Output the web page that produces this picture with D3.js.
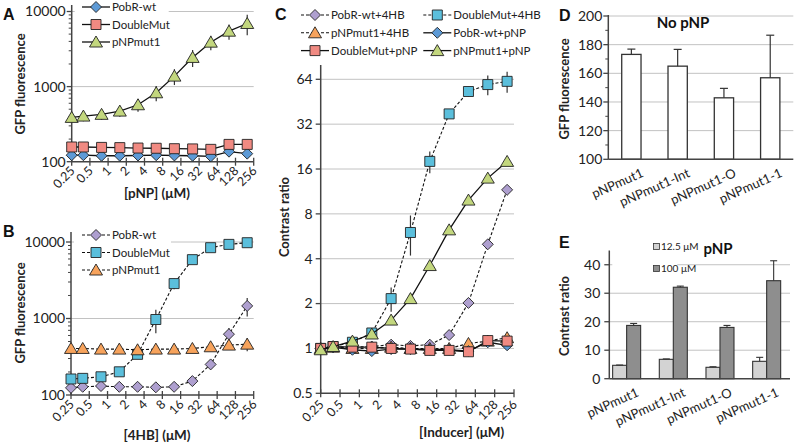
<!DOCTYPE html>
<html><head><meta charset="utf-8">
<script src="https://cdn.jsdelivr.net/npm/d3@7"></script>
<style>body{margin:0;background:#fff}svg{font-family:Lato,'Open Sans',sans-serif}</style>
</head><body><svg id="c" width="796" height="444"></svg>
<script>
// ---------- DATA ----------
const conc = [0.25, 0.39, 0.78, 1.5625, 3.125, 6.25, 12.5, 25, 50, 100, 200];
const concTicks = [0.25, 0.5, 1, 2, 4, 8, 16, 32, 64, 128, 256];
const concTickLabels = ["0.25","0.5","1","2","4","8","16","32","64","128","256"];

// Panel A: GFP fluorescence vs [pNP]
const aPobRwt    = [122, 122, 120, 120, 121, 122, 121, 120, 118, 136, 128];
const aPobRwtErr = [4, 4, 4, 4, 4, 4, 4, 4, 4, 8, 6];
const aDoubleMut    = [157, 157, 155, 154, 152, 151, 149, 148, 146, 170, 170];
const aDoubleMutErr = [5, 5, 5, 5, 5, 5, 5, 5, 5, 8, 8];
const aPNPmut1    = [389, 405, 427, 472, 573, 827, 1379, 2446, 3905, 5470, 6925];
const aPNPmut1Err = [55, 60, 65, 75, 110, 190, 330, 620, 850, 1250, 2100];

// Panel B: GFP fluorescence vs [4HB]
const bPobRwt    = [124, 128, 131, 128, 128, 126, 128, 152, 251, 624, 1460];
const bPobRwtErr = [4, 4, 4, 4, 4, 4, 4, 8, 30, 130, 400];
const bDoubleMut    = [162, 165, 173, 201, 340, 970, 2860, 5880, 8430, 9310, 9790];
const bDoubleMutErr = [8, 8, 8, 10, 25, 330, 450, 350, 400, 500, 500];
const bPNPmut1    = [406, 406, 398, 398, 390, 398, 398, 406, 427, 449, 462];
const bPNPmut1Err = [20, 20, 20, 20, 20, 20, 20, 25, 50, 60, 90];

// Panel C: contrast ratio vs [Inducer]
const cPobR4HB       = [1.0, 1.02, 1.02, 1.03, 1.06, 1.04, 1.06, 1.23, 2.02, 5.0, 11.6];
const cPobR4HBErr    = [0.02, 0.02, 0.02, 0.02, 0.03, 0.03, 0.03, 0.05, 0.1, 0.3, 0.5];
const cDoubleMut4HB    = [1.0, 1.03, 1.1, 1.27, 2.16, 6.0, 18, 37.5, 53, 59, 62];
const cDoubleMut4HBErr = [0.02, 0.02, 0.03, 0.05, 0.4, 1.8, 3, 2, 4, 9, 10];
const cPNPmut14HB    = [1.0, 1.02, 1.0, 1.0, 1.02, 1.0, 1.0, 1.0, 1.08, 1.12, 1.18];
const cPNPmut14HBErr = [0.02, 0.02, 0.02, 0.02, 0.02, 0.02, 0.02, 0.02, 0.04, 0.05, 0.06];
const cPobRpNP    = [1.0, 1.02, 0.98, 0.96, 0.99, 0.99, 0.98, 0.98, 0.96, 1.1, 1.05];
const cPobRpNPErr = [0.02, 0.02, 0.02, 0.02, 0.02, 0.02, 0.02, 0.02, 0.02, 0.05, 0.04];
const cDoubleMutpNP    = [1.0, 1.03, 1.02, 1.02, 1.0, 0.99, 0.97, 0.97, 0.95, 1.13, 1.12];
const cDoubleMutpNPErr = [0.02, 0.02, 0.02, 0.02, 0.02, 0.02, 0.02, 0.02, 0.02, 0.05, 0.05];
const cPNPmut1pNP    = [0.98, 1.03, 1.12, 1.25, 1.55, 2.16, 3.6, 6.25, 9.9, 13.9, 18];
const cPNPmut1pNPErr = [0.02, 0.03, 0.04, 0.05, 0.06, 0.08, 0.15, 0.3, 0.4, 0.6, 0.8];

// Panel D: no pNP
const dCats = ["pNPmut1", "pNPmut1-Int", "pNPmut1-O", "pNPmut1-1"];
const dValues = [173.2, 165, 142.9, 156.9];
const dErr = [3.7, 11.7, 6.6, 29.7];
const dTicks = [100, 120, 140, 160, 180, 200];

// Panel E: pNP contrast ratio
const eSeries = ["12.5 μM", "100 μM"];
const eLow = [4.7, 6.8, 4.0, 6.1];
const eLowErr = [0.1, 0.15, 0.2, 1.4];
const eHigh = [18.7, 32.1, 18.0, 34.4];
const eHighErr = [0.7, 0.4, 0.7, 7.0];
const eTicks = [0, 10, 20, 30, 40];

// ---------- DRAWING ----------
const svg = d3.select("#c");
const AX = "#444", GRID = "#c2c2c2", MK = "#222";

function marker(type, cx, cy) {
  if (type === "diamond") return `M${cx},${cy-5.5}L${cx+5.5},${cy}L${cx},${cy+5.5}L${cx-5.5},${cy}Z`;
  if (type === "square") return `M${cx-5},${cy-5}h10v10h-10Z`;
  return `M${cx},${cy-6}L${cx+6.5},${cy+5}L${cx-6.5},${cy+5}Z`;
}

function drawSeries(g, x, y, s) {
  const pts = conc.map((c, i) => ({c, v: s.values[i], e: s.err ? s.err[i] : 0}));
  const line = d3.line().x(d => x(d.c)).y(d => y(d.v));
  g.append("path").attr("d", line(pts)).attr("fill", "none")
    .attr("stroke", "#111").attr("stroke-width", s.dash ? 1.1 : 1.3)
    .attr("stroke-dasharray", s.dash ? "3,2" : null);
  g.selectAll(null).data(pts).join("line")
    .attr("x1", d => x(d.c)).attr("x2", d => x(d.c))
    .attr("y1", d => y(d.v + d.e)).attr("y2", d => y(Math.max(d.v - d.e, 1e-3)))
    .attr("stroke", "#333").attr("stroke-width", 1.2);
  g.selectAll(null).data(pts).join("path")
    .attr("d", d => marker(s.shape, x(d.c), y(d.v)))
    .attr("fill", s.color).attr("stroke", MK).attr("stroke-width", 0.9);
}

function legendItem(g, lx, ly, s) {
  g.append("line").attr("x1", lx - 14).attr("x2", lx + 14).attr("y1", ly).attr("y2", ly)
    .attr("stroke", "#111").attr("stroke-width", s.dash ? 1.1 : 1.3)
    .attr("stroke-dasharray", s.dash ? "3,2" : null);
  g.append("path").attr("d", marker(s.shape, lx, ly)).attr("fill", s.color)
    .attr("stroke", MK).attr("stroke-width", 0.9);
  g.append("text").attr("x", lx + 16).attr("y", ly).attr("dy", "0.35em")
    .attr("font-size", 11.5).attr("fill", "#222").text(s.name);
}

function xAxisLog(g, x, yb, tickDy, titleY, title, titleX) {
  g.append("line").attr("x1", x.range()[0]).attr("x2", x.range()[1]).attr("y1", yb).attr("y2", yb)
    .attr("stroke", AX).attr("stroke-width", 1.5);
  g.selectAll(null).data(concTicks).join("line")
    .attr("x1", d => x(d)).attr("x2", d => x(d)).attr("y1", yb - 4).attr("y2", yb + 4)
    .attr("stroke", AX).attr("stroke-width", 1.3);
  g.selectAll(null).data(concTicks).join("text")
    .attr("transform", d => `translate(${x(d) + 4},${yb + tickDy}) rotate(-45)`)
    .attr("text-anchor", "end").attr("font-size", 12.5).attr("fill", "#222")
    .text((d, i) => concTickLabels[i]);
  g.append("text").attr("x", titleX).attr("y", titleY).attr("text-anchor", "middle")
    .attr("font-size", 13.5).attr("font-weight", "bold").attr("fill", "#222").text(title);
}

function yTitle(g, x, y, t) {
  g.append("text").attr("transform", `translate(${x},${y}) rotate(-90)`).attr("text-anchor", "middle")
    .attr("dy", "0.35em").attr("font-size", 13).attr("font-weight", "bold").attr("fill", "#222").text(t);
}
function letter(g, x, y, t) {
  g.append("text").attr("x", x).attr("y", y).attr("font-family", "'Liberation Sans',Arial,sans-serif")
    .attr("font-size", 16).attr("font-weight", "bold").attr("fill", "#111").text(t);
}

function panelAB(cfg) {
  const g = svg.append("g");
  const x = d3.scaleLog().base(2).domain([0.25, 256]).range([cfg.x0, cfg.x1]);
  const y = d3.scaleLog().domain([100, 10000]).range([cfg.y100, cfg.y10000]);
  g.selectAll(null).data([1000, 10000]).join("line")
    .attr("x1", cfg.x0).attr("x2", cfg.x1).attr("y1", d => y(d)).attr("y2", d => y(d))
    .attr("stroke", GRID).attr("stroke-width", 1);
  g.append("rect").attr("x", cfg.x0 + 3).attr("y", cfg.legY - 10).attr("width", cfg.legW)
    .attr("height", 50).attr("fill", "#fff");
  g.append("line").attr("x1", cfg.x0).attr("x2", cfg.x0).attr("y1", cfg.y100).attr("y2", cfg.yTop)
    .attr("stroke", AX).attr("stroke-width", 1.5);
  const minor = [];
  [100, 1000].forEach(b => { for (let k = 2; k <= 9; k++) minor.push(b * k); });
  g.selectAll(null).data(minor).join("line")
    .attr("x1", cfg.x0 - 3).attr("x2", cfg.x0).attr("y1", d => y(d)).attr("y2", d => y(d))
    .attr("stroke", AX).attr("stroke-width", 1);
  g.selectAll(null).data([100, 1000, 10000]).join("line")
    .attr("x1", cfg.x0 - 5).attr("x2", cfg.x0).attr("y1", d => y(d)).attr("y2", d => y(d))
    .attr("stroke", AX).attr("stroke-width", 1.3);
  g.selectAll(null).data([100, 1000, 10000]).join("text")
    .attr("x", cfg.x0 - 6).attr("y", d => y(d)).attr("dy", "0.35em").attr("text-anchor", "end")
    .attr("font-size", 14).attr("fill", "#222").text(d => d);
  xAxisLog(g, x, cfg.y100, 10, cfg.titleY, cfg.xTitle, 157);
  cfg.series.forEach(s => drawSeries(g, x, y, s));
  cfg.series.forEach((s, i) => legendItem(g, 96, cfg.legY + i * 17.5, s));
  yTitle(g, 20, cfg.ytY, "GFP fluorescence");
  letter(g, 3, cfg.letterY, cfg.letter);
}

panelAB({
  x0: 71.7, x1: 253.7, y100: 161.7, y10000: 11.5, yTop: 5, legY: 7, legW: 94,
  titleY: 198, xTitle: "[pNP] (μM)", ytY: 84, letter: "A", letterY: 20,
  series: [
    {name: "PobR-wt", values: aPobRwt, err: aPobRwtErr, shape: "diamond", color: "#5d9ad6", dash: false},
    {name: "DoubleMut", values: aDoubleMut, err: aDoubleMutErr, shape: "square", color: "#f08a82", dash: false},
    {name: "pNPmut1", values: aPNPmut1, err: aPNPmut1Err, shape: "triangle", color: "#c3d77e", dash: false}
  ]
});
panelAB({
  x0: 71, x1: 253.7, y100: 395, y10000: 242, yTop: 232, legY: 235, legW: 97,
  titleY: 440, xTitle: "[4HB] (μM)", ytY: 313, letter: "B", letterY: 237,
  series: [
    {name: "PobR-wt", values: bPobRwt, err: bPobRwtErr, shape: "diamond", color: "#ae9fcf", dash: true},
    {name: "DoubleMut", values: bDoubleMut, err: bDoubleMutErr, shape: "square", color: "#5bbfdc", dash: true},
    {name: "pNPmut1", values: bPNPmut1, err: bPNPmut1Err, shape: "triangle", color: "#f7a35c", dash: true}
  ]
});

// Panel C
(function () {
  const g = svg.append("g");
  const x0 = 320.7, x1 = 514, yb = 393.3;
  const x = d3.scaleLog().base(2).domain([0.25, 256]).range([x0, x1]);
  const y = d3.scaleLog().base(2).domain([0.5, 64]).range([yb, 79.3]);
  const yt = [0.5, 1, 2, 4, 8, 16, 32, 64];
  g.selectAll(null).data(yt.slice(1)).join("line")
    .attr("x1", x0).attr("x2", x1).attr("y1", d => y(d)).attr("y2", d => y(d))
    .attr("stroke", GRID).attr("stroke-width", 1);
  g.append("line").attr("x1", x0).attr("x2", x0).attr("y1", yb).attr("y2", 65)
    .attr("stroke", AX).attr("stroke-width", 1.5);
  g.selectAll(null).data(yt).join("line")
    .attr("x1", x0 - 5).attr("x2", x0).attr("y1", d => y(d)).attr("y2", d => y(d))
    .attr("stroke", AX).attr("stroke-width", 1.3);
  g.selectAll(null).data(yt).join("text")
    .attr("x", x0 - 8).attr("y", d => y(d)).attr("dy", "0.35em").attr("text-anchor", "end")
    .attr("font-size", 14).attr("fill", "#222").text(d => d);
  xAxisLog(g, x, yb, 12, 437, "[Inducer] (μM)", 461.7);
  const series = [
    {name: "PobR-wt+4HB", values: cPobR4HB, err: cPobR4HBErr, shape: "diamond", color: "#ae9fcf", dash: true},
    {name: "DoubleMut+4HB", values: cDoubleMut4HB, err: cDoubleMut4HBErr, shape: "square", color: "#5bbfdc", dash: true},
    {name: "pNPmut1+4HB", values: cPNPmut14HB, err: cPNPmut14HBErr, shape: "triangle", color: "#f7a35c", dash: true},
    {name: "PobR-wt+pNP", values: cPobRpNP, err: cPobRpNPErr, shape: "diamond", color: "#5d9ad6", dash: false},
    {name: "DoubleMut+pNP", values: cDoubleMutpNP, err: cDoubleMutpNPErr, shape: "square", color: "#f08a82", dash: false},
    {name: "pNPmut1+pNP", values: cPNPmut1pNP, err: cPNPmut1pNPErr, shape: "triangle", color: "#c3d77e", dash: false}
  ];
  series.forEach(s => drawSeries(g, x, y, s));
  series.forEach((s, i) => legendItem(g, i % 2 ? 437.3 : 315, 15 + Math.floor(i / 2) * 17.8, s));
  yTitle(g, 284, 217, "Contrast ratio");
  letter(g, 275, 20, "C");
})();

// Panel D
(function () {
  const g = svg.append("g");
  const x0 = 608.3, x1 = 793.3, yb = 159.3;
  const x = d3.scaleBand().domain(dCats).range([x0, x1]).paddingInner(0.583).paddingOuter(0.29);
  const y = d3.scaleLinear().domain([100, 200]).range([yb, 16]);
  g.selectAll(null).data(dTicks.slice(1)).join("line")
    .attr("x1", x0).attr("x2", x1).attr("y1", d => y(d)).attr("y2", d => y(d))
    .attr("stroke", GRID).attr("stroke-width", 1);
  g.selectAll(null).data(dCats).join("rect")
    .attr("x", d => x(d)).attr("width", x.bandwidth())
    .attr("y", (d, i) => y(dValues[i])).attr("height", (d, i) => yb - y(dValues[i]))
    .attr("fill", "#fff").attr("stroke", "#333").attr("stroke-width", 1.3);
  dCats.forEach((c, i) => {
    const cx = x(c) + x.bandwidth() / 2, yt = y(dValues[i] + dErr[i]);
    g.append("line").attr("x1", cx).attr("x2", cx).attr("y1", y(dValues[i])).attr("y2", yt).attr("stroke", "#333").attr("stroke-width", 1.2);
    g.append("line").attr("x1", cx - 4).attr("x2", cx + 4).attr("y1", yt).attr("y2", yt).attr("stroke", "#333").attr("stroke-width", 1.2);
  });
  g.append("line").attr("x1", x0).attr("x2", x0).attr("y1", yb).attr("y2", 15).attr("stroke", AX).attr("stroke-width", 1.5);
  g.append("line").attr("x1", x0).attr("x2", x1).attr("y1", yb).attr("y2", yb).attr("stroke", AX).attr("stroke-width", 1.5);
  g.selectAll(null).data(d3.range(110, 200, 20)).join("line")
    .attr("x1", x0 - 3).attr("x2", x0).attr("y1", d => y(d)).attr("y2", d => y(d)).attr("stroke", AX);
  g.selectAll(null).data(dTicks).join("line")
    .attr("x1", x0 - 5).attr("x2", x0).attr("y1", d => y(d)).attr("y2", d => y(d)).attr("stroke", AX).attr("stroke-width", 1.3);
  g.selectAll(null).data(dTicks).join("text")
    .attr("x", x0 - 6).attr("y", d => y(d)).attr("dy", "0.35em").attr("text-anchor", "end")
    .attr("font-size", 14).attr("fill", "#222").text(d => d);
  g.selectAll(null).data(dCats).join("text")
    .attr("transform", d => `translate(${x(d) + x.bandwidth() / 2 + 13},${yb + 17}) rotate(-24)`)
    .attr("text-anchor", "end").attr("font-size", 13).attr("fill", "#222").text(d => d);
  g.append("text").attr("x", 683).attr("y", 28).attr("text-anchor", "middle").attr("font-size", 15)
    .attr("font-weight", "bold").attr("fill", "#111").text("No pNP");
  yTitle(g, 564, 89, "GFP fluorescence");
  letter(g, 559, 21, "D");
})();

// Panel E
(function () {
  const g = svg.append("g");
  const x0 = 609.3, x1 = 790, yb = 378.7;
  const x = d3.scaleBand().domain(dCats).range([603.3, x1]).paddingInner(0.4).paddingOuter(0.2);
  const xs = d3.scaleBand().domain(eSeries).range([0, x.bandwidth()]);
  const y = d3.scaleLinear().domain([0, 45]).range([yb, 250.5]);
  g.selectAll(null).data(eTicks.slice(1)).join("line")
    .attr("x1", x0).attr("x2", x1).attr("y1", d => y(d)).attr("y2", d => y(d))
    .attr("stroke", GRID).attr("stroke-width", 1);
  g.append("rect").attr("x", x0 + 3).attr("y", 240).attr("width", 65).attr("height", 36).attr("fill", "#fff");
  const sets = [{vals: eLow, err: eLowErr, color: "#d3d3d3", s: eSeries[0]}, {vals: eHigh, err: eHighErr, color: "#8e8e8e", s: eSeries[1]}];
  sets.forEach(st => {
    dCats.forEach((c, i) => {
      const bx = x(c) + xs(st.s), bw = xs.bandwidth();
      g.append("rect").attr("x", bx).attr("width", bw).attr("y", y(st.vals[i])).attr("height", yb - y(st.vals[i]))
        .attr("fill", st.color).attr("stroke", "#333").attr("stroke-width", 1.1);
      const cx = bx + bw / 2, yt = y(st.vals[i] + st.err[i]);
      g.append("line").attr("x1", cx).attr("x2", cx).attr("y1", y(st.vals[i])).attr("y2", yt).attr("stroke", "#333").attr("stroke-width", 1.1);
      g.append("line").attr("x1", cx - 3.5).attr("x2", cx + 3.5).attr("y1", yt).attr("y2", yt).attr("stroke", "#333").attr("stroke-width", 1.1);
    });
  });
  g.append("line").attr("x1", x0).attr("x2", x0).attr("y1", yb).attr("y2", 250.5).attr("stroke", AX).attr("stroke-width", 1.5);
  g.append("line").attr("x1", x0).attr("x2", x1).attr("y1", yb).attr("y2", yb).attr("stroke", AX).attr("stroke-width", 1.5);
  g.selectAll(null).data(eTicks).join("line")
    .attr("x1", x0 - 5).attr("x2", x0).attr("y1", d => y(d)).attr("y2", d => y(d)).attr("stroke", AX).attr("stroke-width", 1.3);
  g.selectAll(null).data(eTicks).join("text")
    .attr("x", x0 - 9).attr("y", d => y(d)).attr("dy", "0.35em").attr("text-anchor", "end")
    .attr("font-size", 14).attr("fill", "#222").text(d => d);
  g.selectAll(null).data(dCats).join("text")
    .attr("transform", d => `translate(${x(d) + x.bandwidth() / 2 + 13},${yb + 17}) rotate(-24)`)
    .attr("text-anchor", "end").attr("font-size", 13).attr("fill", "#222").text(d => d);
  sets.forEach((st, i) => {
    g.append("rect").attr("x", 653.5).attr("y", 243.5 + i * 22).attr("width", 6).attr("height", 6)
      .attr("fill", st.color).attr("stroke", "#333").attr("stroke-width", 0.8);
    g.append("text").attr("x", 661).attr("y", 246.5 + i * 22).attr("dy", "0.35em").attr("font-size", 10)
      .attr("fill", "#222").text(st.s);
  });
  g.append("text").attr("x", 718).attr("y", 254).attr("text-anchor", "middle").attr("font-size", 15)
    .attr("font-weight", "bold").attr("fill", "#111").text("pNP");
  yTitle(g, 564, 316, "Contrast ratio");
  letter(g, 559, 248, "E");
})();
</script></body></html>
